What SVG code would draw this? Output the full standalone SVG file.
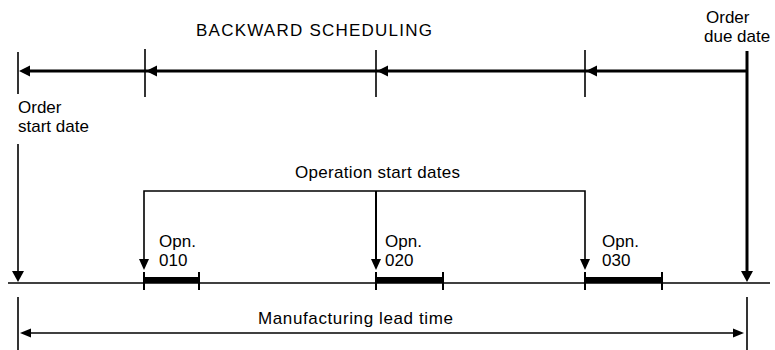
<svg xmlns="http://www.w3.org/2000/svg" width="775" height="350" viewBox="0 0 775 350">
<style>
text{font-family:"Liberation Sans",Arial,sans-serif;fill:#000;font-size:17px}
.thick{stroke:#000;stroke-width:3;fill:none}
.thin{stroke:#000;stroke-width:1.6;fill:none}
.mid{stroke:#000;stroke-width:2;fill:none}
.ah{fill:#000;stroke:none}
</style>
<rect width="775" height="350" fill="#fff"/>
<g id="title"><text x="196" y="36" font-size="16" textLength="236" lengthAdjust="spacing">BACKWARD  SCHEDULING</text></g>
<g id="order-start"><text x="18" y="113">Order</text><text x="18" y="132">start date</text></g>
<g id="order-due"><text x="706" y="23" font-size="15.5">Order</text><text x="704" y="42" font-size="15.5">due date</text></g>
<g id="op-start-dates"><text x="295" y="178" textLength="165" lengthAdjust="spacing">Operation start dates</text></g>
<g id="opn010"><text x="159" y="247">Opn.</text><text x="159" y="266">010</text><rect x="144" y="277" width="55" height="6"/></g>
<g id="opn020"><text x="385" y="247">Opn.</text><text x="385" y="266">020</text><rect x="376" y="277" width="67" height="6"/></g>
<g id="opn030"><text x="602" y="247">Opn.</text><text x="602" y="266">030</text><rect x="585" y="277" width="77" height="6"/></g>
<g id="lead-time"><text x="258" y="324" textLength="195" lengthAdjust="spacing">Manufacturing lead time</text></g>
<g id="connectors">
<line class="thin" x1="18" y1="52" x2="18" y2="94"/>
<line class="thin" x1="145" y1="49" x2="145" y2="97"/>
<line class="thin" x1="376" y1="50" x2="376" y2="97"/>
<line class="thin" x1="585" y1="50" x2="585" y2="97"/>
<line class="thick" x1="28" y1="71" x2="747" y2="71"/>
<polygon class="ah" points="19,71 30,65.5 30,76.5"/>
<polygon class="ah" points="146,71 157,65.5 157,76.5"/>
<polygon class="ah" points="377,71 388,65.5 388,76.5"/>
<polygon class="ah" points="586,71 597,65.5 597,76.5"/>
<line class="thick" x1="747" y1="51" x2="747" y2="272"/>
<polygon class="ah" points="741,271 753,271 747,282"/>
<line class="thin" x1="18" y1="144" x2="18" y2="272"/>
<polygon class="ah" points="12,271 24,271 18,282"/>
<polyline class="thin" points="144,259 144,191 585,191 585,259"/>
<line class="mid" x1="376" y1="191" x2="376" y2="259"/>
<polygon class="ah" points="139,259 149,259 144,270"/>
<polygon class="ah" points="371,259 381,259 376,270"/>
<polygon class="ah" points="580,259 590,259 585,270"/>
<line class="thin" x1="8" y1="283" x2="770" y2="283"/>
<line class="mid" x1="144" y1="272" x2="144" y2="290"/>
<line class="mid" x1="199" y1="272" x2="199" y2="290"/>
<line class="mid" x1="376" y1="272" x2="376" y2="290"/>
<line class="mid" x1="443" y1="272" x2="443" y2="290"/>
<line class="mid" x1="585" y1="272" x2="585" y2="290"/>
<line class="mid" x1="662" y1="272" x2="662" y2="290"/>
<line class="thin" x1="18" y1="297" x2="18" y2="350"/>
<line class="thin" x1="747" y1="297" x2="747" y2="350"/>
<line class="thin" x1="28" y1="333" x2="735" y2="333"/>
<polygon class="ah" points="20,333 31,328.5 31,337.5"/>
<polygon class="ah" points="744,333 733,328.5 733,337.5"/>
</g>
</svg>
